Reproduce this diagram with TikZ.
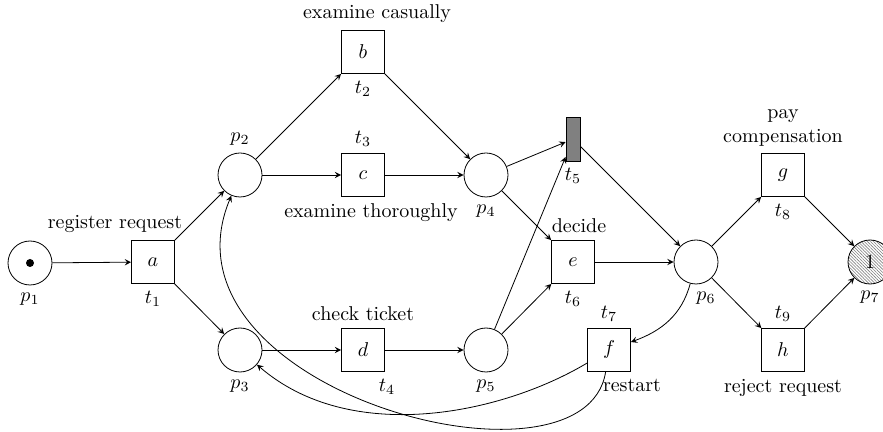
\documentclass[tikz,border=0pt]{standalone}
\usepackage{amsmath}
\usepackage{tikz}
\usetikzlibrary{positioning}
\usetikzlibrary{patterns.meta}
\usepackage{xcolor}

\begin{document}
\begin{tikzpicture}[x=0.5pt,y=0.5pt,
  place/.style={draw, circle, minimum size=22pt, inner sep=0pt},
  transition/.style={draw, rectangle, minimum size=21.5pt, inner sep=0pt},
  silent/.style={draw, fill=gray, rectangle, minimum width=7pt, minimum height=22pt, inner sep=0pt},
  final/.style={place, pattern={Lines[angle=-45,distance=1.1pt,line width=0.3pt]}, pattern color=gray},
  arc/.style={->, >=stealth}]

\useasboundingbox (0,0) rectangle (883,-432);

% places
\node[place, label=below:$p_1$] (p1) at (30,-263) {};
\node[place, label=above:$p_2$] (p2) at (240,-175) {};
\node[place, label=below:$p_3$] (p3) at (240,-350) {};
\node[place, label=below:$p_4$] (p4) at (486,-175) {};
\node[place, label=below:$p_5$] (p5) at (486,-350) {};
\node[place, label={[xshift=5pt]below:$p_6$}] (p6) at (696,-262) {};
\node[final, label=below:$p_7$] (p7) at (870,-262) {1};

\fill (p1) circle [radius=2pt];

% transitions
\node[transition, label={[xshift=-19pt]above:register request}, label=below:$t_1$] (a) at (153,-262) {$a$};
\node[transition, label={[xshift=7pt]above:examine casually}, label=below:$t_2$] (b) at (363,-52) {$b$};
\node[transition, label=above:$t_3$, label={[xshift=4pt]below:examine thoroughly}] (c) at (363,-175) {$c$};
\node[transition, label=above:check ticket, label={[xshift=12pt]below:$t_4$}] (d) at (363,-350) {$d$};
\node[silent, label=below:$t_5$] (t5) at (573,-139) {};
\node[transition, label={[xshift=3pt]above:decide}, label=below:$t_6$] (e) at (573,-262) {$e$};
\node[transition, label=above:$t_7$, label={[xshift=11.5pt]below:restart}] (f) at (609,-350) {$f$};
\node[transition, label={[align=center]above:pay\\compensation}, label=below:$t_8$] (g) at (783,-175) {$g$};
\node[transition, label=above:$t_9$, label=below:reject request] (h) at (783,-350) {$h$};

% arcs
\draw[arc] (p1) -- (a);
\draw[arc] (a) -- (p2);
\draw[arc] (a) -- (p3);
\draw[arc] (p2) -- (b);
\draw[arc] (p2) -- (c);
\draw[arc] (b) -- (p4);
\draw[arc] (c) -- (p4);
\draw[arc] (p3) -- (d);
\draw[arc] (d) -- (p5);
\draw[arc] (p4) -- (t5);
\draw[arc] (p4) -- (e);
\draw[arc] (p5) -- (t5);
\draw[arc] (p5) -- (e);
\draw[arc] (t5) -- (p6);
\draw[arc] (e) -- (p6);
\draw[arc] (p6) -- (g);
\draw[arc] (p6) -- (h);
\draw[arc] (g) -- (p7);
\draw[arc] (h) -- (p7);

% restart loop
\draw[arc] (p6) to[out=-105, in=20] (f);
\draw[arc] (f) .. controls (500,-415) and (350,-445) .. (p3);
\draw[arc] (f) .. controls (585,-505) and (150,-390) .. (p2);

\end{tikzpicture}
\end{document}
